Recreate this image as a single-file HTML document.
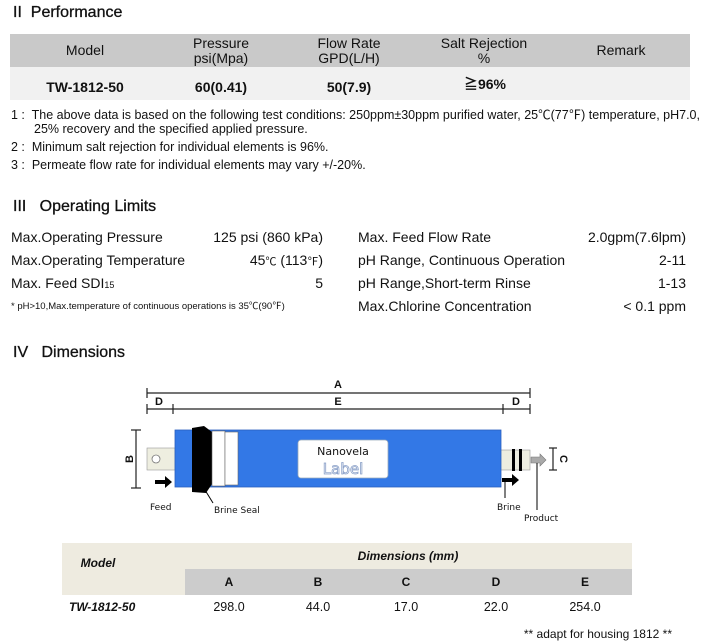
<!DOCTYPE html>
<html><head><meta charset="utf-8"><style>
*{margin:0;padding:0;box-sizing:border-box}
body{width:705px;height:641px;background:#fff;position:relative;overflow:hidden;font-family:"Liberation Sans Narrow","Liberation Sans","Noto Sans CJK SC",sans-serif;color:#111}
.a{position:absolute;white-space:nowrap}
.h{font-size:16px;font-family:"Liberation Sans","Noto Sans CJK SC",sans-serif;-webkit-text-stroke:0.3px #111}
.t{font-size:14px}
.c{transform:translateX(-50%);text-align:center;line-height:15px}
.r{text-align:right}
</style></head><body>
<div class="a h" style="left:13px;top:4px">II&nbsp;&nbsp;Performance</div>
<div class="a" style="left:10px;top:34px;width:680px;height:33px;background:#c9c9c9"></div>
<div class="a" style="left:10px;top:67px;width:680px;height:33px;background:#f1f1f1"></div>
<div class="a t c" style="left:85px;top:43px">Model</div>
<div class="a t c" style="left:221px;top:36px">Pressure<br>psi(Mpa)</div>
<div class="a t c" style="left:349px;top:36px">Flow Rate<br>GPD(L/H)</div>
<div class="a t c" style="left:484px;top:36px">Salt Rejection<br>%</div>
<div class="a t c" style="left:621px;top:43px">Remark</div>
<div class="a t c" style="left:85px;top:80px;font-weight:bold">TW-1812-50</div>
<div class="a t c" style="left:221px;top:80px;font-weight:bold">60(0.41)</div>
<div class="a t c" style="left:349px;top:80px;font-weight:bold">50(7.9)</div>
<div class="a t c" style="left:485px;top:77px;font-weight:bold">≧96%</div>
<div class="a" style="left:11px;top:104px;font-size:12.5px">1 :&nbsp; The above data is based on the following test conditions: 250ppm±30ppm purified water, 25℃(77℉) temperature, pH7.0,</div>
<div class="a" style="left:34px;top:122px;font-size:12.5px">25% recovery and the specified applied pressure.</div>
<div class="a" style="left:11px;top:140px;font-size:12.5px">2 :&nbsp; Minimum salt rejection for individual elements is 96%.</div>
<div class="a" style="left:11px;top:158px;font-size:12.5px">3 :&nbsp; Permeate flow rate for individual elements may vary +/-20%.</div>

<div class="a h" style="left:13px;top:198px">III&nbsp;&nbsp;&nbsp;Operating Limits</div>
<div class="a t" style="left:11px;top:229px">Max.Operating Pressure</div>
<div class="a t" style="left:11px;top:252px">Max.Operating Temperature</div>
<div class="a t" style="left:11px;top:275px">Max. Feed SDI<span style="font-size:9px">15</span></div>
<div class="a" style="left:11px;top:298px;font-size:9.5px">* pH&gt;10,Max.temperature of continuous operations is 35℃(90℉)</div>
<div class="a t r" style="right:382px;top:229px">125 psi (860 kPa)</div>
<div class="a t r" style="right:382px;top:252px">45<span style="font-size:11px">℃</span> (113<span style="font-size:11px">℉</span>)</div>
<div class="a t r" style="right:382px;top:275px">5</div>
<div class="a t" style="left:358px;top:229px">Max. Feed Flow Rate</div>
<div class="a t" style="left:358px;top:252px">pH Range, Continuous Operation</div>
<div class="a t" style="left:358px;top:275px">pH Range,Short-term Rinse</div>
<div class="a t" style="left:358px;top:298px">Max.Chlorine Concentration</div>
<div class="a t r" style="right:19px;top:229px">2.0gpm(7.6lpm)</div>
<div class="a t r" style="right:19px;top:252px">2-11</div>
<div class="a t r" style="right:19px;top:275px">1-13</div>
<div class="a t r" style="right:19px;top:298px">&lt; 0.1 ppm</div>

<div class="a h" style="left:13px;top:344px">IV&nbsp;&nbsp;&nbsp;Dimensions</div>

<svg class="a" style="left:0;top:0" width="705" height="641">
<g stroke="#222" stroke-width="1.2">
<line x1="147" y1="393" x2="530" y2="393"/><line x1="147" y1="388" x2="147" y2="398"/><line x1="530" y1="388" x2="530" y2="398"/>
<line x1="147" y1="409" x2="530" y2="409"/>
<line x1="147" y1="404" x2="147" y2="414"/><line x1="173" y1="404" x2="173" y2="414"/><line x1="503" y1="404" x2="503" y2="414"/><line x1="530" y1="404" x2="530" y2="414"/>
<line x1="136" y1="430" x2="136" y2="488"/><line x1="131" y1="430" x2="141" y2="430"/><line x1="131" y1="488" x2="141" y2="488"/>
<line x1="553" y1="448" x2="553" y2="470"/><line x1="549" y1="448" x2="557" y2="448"/><line x1="549" y1="470" x2="557" y2="470"/>
</g>
<g font-family="Liberation Sans,sans-serif" font-weight="bold" font-size="11" fill="#111" text-anchor="middle">
<text x="338" y="388">A</text><text x="338" y="405">E</text><text x="159" y="405">D</text><text x="516" y="405">D</text>
<text x="130" y="462" transform="rotate(-90 130 459)">B</text>
<text x="563" y="462" transform="rotate(90 563 459)">C</text>
</g>
<rect x="147" y="448" width="28" height="22" fill="#eeeee0" stroke="#999" stroke-width=".6"/>
<circle cx="156" cy="459" r="4" fill="#fff" stroke="#777" stroke-width=".8"/>
<rect x="500" y="450" width="30" height="20" fill="#eeeee0" stroke="#999" stroke-width=".6"/>
<rect x="512" y="449" width="3" height="22" fill="#000"/><rect x="519" y="449" width="3" height="22" fill="#000"/>
<rect x="175" y="430" width="326" height="57" fill="#3378e6" stroke="#2a5fbf" stroke-width=".8"/>
<path d="M192,428 L204,426 L212,432 L212,484 L206,493 L192,492 Z" fill="#000"/>
<rect x="212" y="431" width="13" height="55" fill="#fff" stroke="#666" stroke-width=".6"/>
<rect x="225" y="432" width="13" height="53" fill="#fff" stroke="#666" stroke-width=".6"/>
<rect x="298" y="440" width="90" height="38" rx="3" fill="#fff" stroke="#9ab" stroke-width=".8"/>
<text x="343" y="455" font-family="DejaVu Sans,sans-serif" font-size="11" text-anchor="middle" fill="#111">Nanovela</text>
<text x="343" y="474" font-family="DejaVu Sans,sans-serif" font-size="15" text-anchor="middle" fill="#fff" stroke="#8aa0c8" stroke-width=".8">Label</text>
<path d="M531,457 L540,457 L540,454 L546,460 L540,466 L540,463 L531,463 Z" fill="#aaa" stroke="#777" stroke-width=".6"/>
<path d="M155,480 L165,480 L165,476 L172,482 L165,488 L165,484 L155,484 Z" fill="#000"/>
<path d="M502,478 L512,478 L512,474 L519,480 L512,486 L512,482 L502,482 Z" fill="#000"/>
<g stroke="#000" stroke-width="1"><line x1="205" y1="490" x2="213" y2="503"/><line x1="505" y1="482" x2="505" y2="498"/><line x1="537" y1="463" x2="537" y2="510"/></g>
<g font-family="DejaVu Sans,sans-serif" font-size="9" fill="#111">
<text x="150" y="510">Feed</text><text x="214" y="513">Brine Seal</text><text x="497" y="510">Brine</text><text x="524" y="521">Product</text>
</g>
</svg>

<div class="a" style="left:62px;top:543px;width:570px;height:26px;background:#eeebe0"></div>
<div class="a" style="left:62px;top:569px;width:123px;height:26px;background:#eeebe0"></div>
<div class="a" style="left:185px;top:569px;width:447px;height:26px;background:#cccccc"></div>
<div class="a c" style="left:408px;top:549px;font-size:12px;font-weight:bold;font-style:italic;font-family:'Liberation Sans',sans-serif">Dimensions (mm)</div>
<div class="a c" style="left:98px;top:556px;font-size:12px;font-weight:bold;font-style:italic;font-family:'Liberation Sans',sans-serif">Model</div>
<div class="a c" style="left:229px;top:575px;font-size:12px;font-weight:bold;font-family:'Liberation Sans',sans-serif">A</div>
<div class="a c" style="left:318px;top:575px;font-size:12px;font-weight:bold;font-family:'Liberation Sans',sans-serif">B</div>
<div class="a c" style="left:406px;top:575px;font-size:12px;font-weight:bold;font-family:'Liberation Sans',sans-serif">C</div>
<div class="a c" style="left:496px;top:575px;font-size:12px;font-weight:bold;font-family:'Liberation Sans',sans-serif">D</div>
<div class="a c" style="left:585px;top:575px;font-size:12px;font-weight:bold;font-family:'Liberation Sans',sans-serif">E</div>
<div class="a" style="left:69px;top:600px;font-size:12px;font-weight:bold;font-style:italic;font-family:'Liberation Sans',sans-serif">TW-1812-50</div>
<div class="a c" style="left:229px;top:600px;font-size:12.5px">298.0</div>
<div class="a c" style="left:318px;top:600px;font-size:12.5px">44.0</div>
<div class="a c" style="left:406px;top:600px;font-size:12.5px">17.0</div>
<div class="a c" style="left:496px;top:600px;font-size:12.5px">22.0</div>
<div class="a c" style="left:585px;top:600px;font-size:12.5px">254.0</div>
<div class="a" style="right:33px;top:627px;font-size:12px">** adapt for housing 1812 **</div>
</body></html>
